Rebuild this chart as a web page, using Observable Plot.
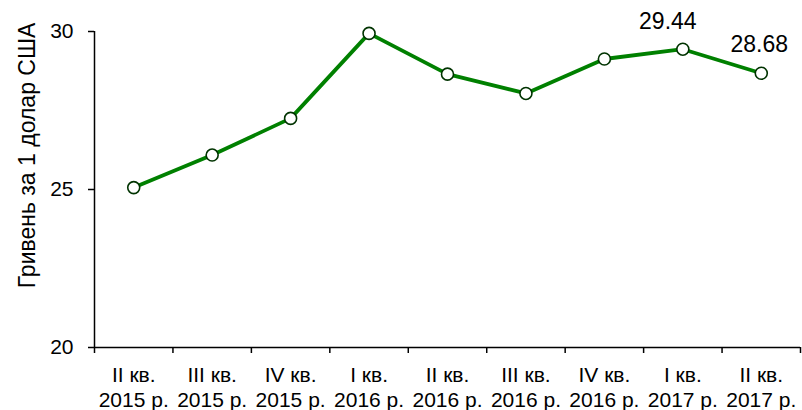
<!DOCTYPE html>
<html>
<head>
<meta charset="utf-8">
<script src="https://cdn.jsdelivr.net/npm/d3@7"></script>
<script src="https://cdn.jsdelivr.net/npm/@observablehq/plot@0.6"></script>
<style>
  html, body { margin: 0; padding: 0; background: #fff; }
  #chart svg { font-family: "Liberation Sans", Arial, sans-serif; display: block; }
</style>
</head>
<body>
<div id="chart"></div>
<script>
const quarters = ["II кв.\n2015 р.", "III кв.\n2015 р.", "IV кв.\n2015 р.", "I кв.\n2016 р.", "II кв.\n2016 р.", "III кв.\n2016 р.", "IV кв.\n2016 р.", "I кв.\n2017 р.", "II кв.\n2017 р."];
const rates = [25.06, 26.09, 27.25, 29.94, 28.65, 28.04, 29.13, 29.44, 28.68];
const labelled = [7, 8];
const yTicks = [20, 25, 30];
const yTitle = "Гривень за 1 долар США";

const data = quarters.map((q, i) => ({q, i, x: i + 0.5, y: rates[i]}));
const n = quarters.length;

const chart = Plot.plot({
  width: 802,
  height: 410,
  marginLeft: 94,
  marginRight: 2,
  marginTop: 31,
  marginBottom: 63,
  style: {fontFamily: '"Liberation Sans", Arial, sans-serif', color: "#000", background: "#fff"},
  x: {domain: [0, n], axis: null},
  y: {domain: [20, 30], axis: null},
  marks: [
    Plot.axisY({ticks: yTicks, tickSize: 6, tickPadding: 15, fontSize: 21, label: null, stroke: "#000", strokeWidth: 1.5, tickFormat: d => String(d)}),
    Plot.text([yTitle], {frameAnchor: "left", textAnchor: "middle", lineAnchor: "middle", rotate: -90, dx: -67, dy: -34, fontSize: 23, fill: "#000"}),
    Plot.axisX({ticks: d3.range(n + 1), tickSize: 6, tickFormat: () => "", label: null, stroke: "#000", strokeWidth: 1.5}),
    Plot.axisX({ticks: data.map(d => d.x), tickSize: 0, tickPadding: 17, fontSize: 21, label: null, tickFormat: v => quarters[Math.floor(v)], lineHeight: 1.19}),
    Plot.ruleX([0], {y1: 20, y2: 30, stroke: "#000", strokeWidth: 1.5}),
    Plot.ruleY([20], {stroke: "#000", strokeWidth: 1.5}),
    Plot.line(data, {x: "x", y: "y", stroke: "#008000", strokeWidth: 3.8}),
    Plot.dot(data, {x: "x", y: "y", r: 6, fill: "#fff", stroke: "#003300", strokeWidth: 1.6}),
    Plot.text(data.filter(d => d.i === labelled[0]), {x: "x", y: "y", text: d => d.y.toFixed(2), dy: -28, dx: -15, fontSize: 23, fill: "#000"}),
    Plot.text(data.filter(d => d.i === labelled[1]), {x: "x", y: "y", text: d => d.y.toFixed(2), dy: -29, dx: -2, fontSize: 23, fill: "#000"})
  ]
});
document.getElementById("chart").appendChild(chart);
</script>
</body>
</html>
